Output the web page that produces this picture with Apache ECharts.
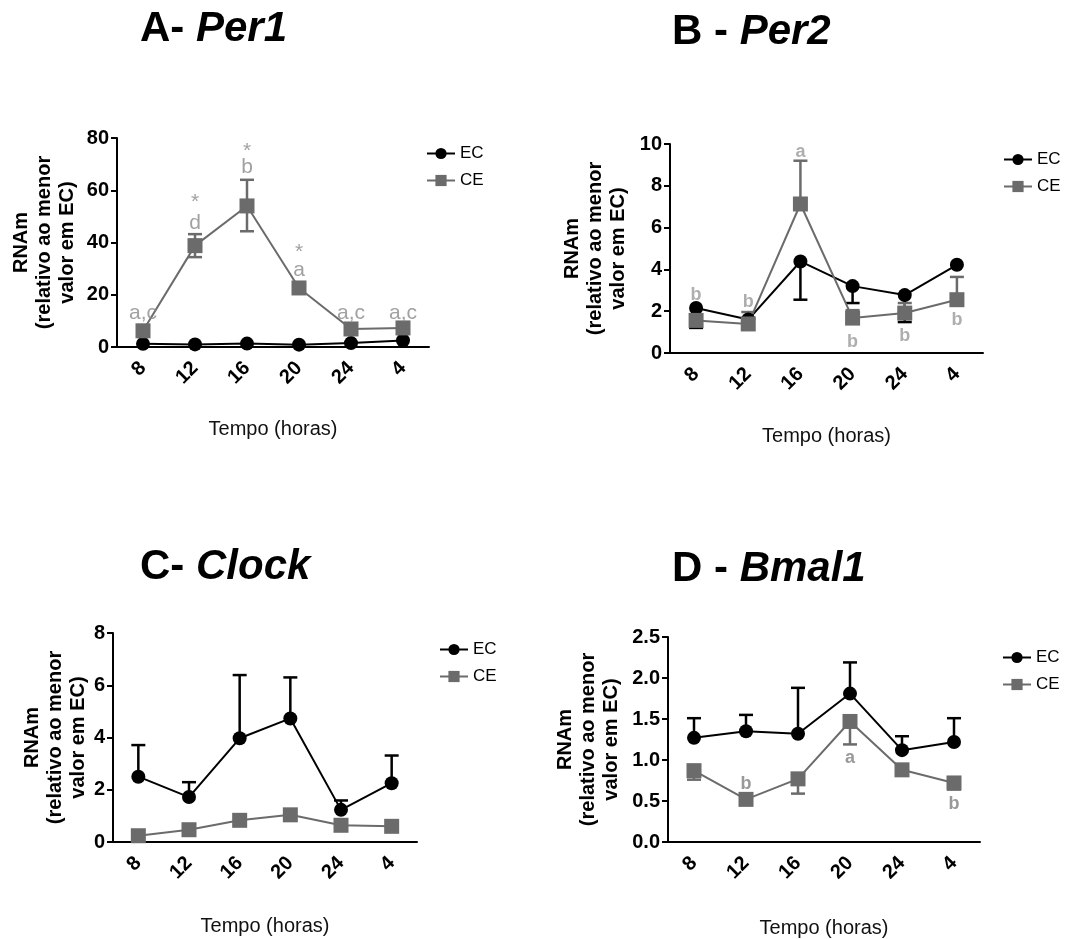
<!DOCTYPE html>
<html>
<head>
<meta charset="utf-8">
<script src="https://cdn.jsdelivr.net/npm/echarts@6/dist/echarts.min.js"></script>
<style>
  html, body { margin: 0; padding: 0; background: #fff; }
  #chart { width: 1067px; height: 939px; }
</style>
</head>
<body>
<div id="chart"></div>
<script>
const hours = ['8', '12', '16', '20', '24', '4']

// A - Per1
const ecA = [1.2, 1.0, 1.3, 0.9, 1.5, 2.5]
const ceA = [6.2, 38.8, 54, 22.6, 6.9, 7.3]
const ceAHi = [null, 43.2, 64, 23.8, null, null]
const ceALo = [null, 34.4, 44.3, null, null, null]
const annA = [[0, 13, 'a,c'], [1, 47.5, 'd'], [1, 55.5, '*'], [2, 69, 'b'], [2, 75, '*'],
  [3, 29.5, 'a'], [3, 36.4, '*'], [4, 13, 'a,c'], [5, 13, 'a,c']]

// B - Per2
const ecB = [2.15, 1.6, 4.38, 3.2, 2.77, 4.22]
const ecBLo = [1.2, null, 2.55, 2.39, 1.48, null]
const ceB = [1.56, 1.39, 7.13, 1.67, 1.91, 2.55]
const ceBHi = [null, 1.96, 9.2, 2.05, 2.39, 3.64]
const annB = [[0, 2.78, 'b'], [1, 2.44, 'b'], [2, 9.6, 'a'], [3, 0.53, 'b'], [4, 0.81, 'b'], [5, 1.58, 'b']]

// C - Clock
const ecC = [2.5, 1.72, 3.97, 4.73, 1.23, 2.25]
const ecCHi = [3.71, 2.29, 6.39, 6.3, 1.59, 3.31]
const ceC = [0.24, 0.47, 0.83, 1.04, 0.64, 0.6]

// D - Bmal1
const ecD = [1.27, 1.35, 1.32, 1.81, 1.12, 1.22]
const ecDHi = [1.51, 1.55, 1.88, 2.19, 1.29, 1.51]
const ceD = [0.87, 0.52, 0.77, 1.47, 0.88, 0.72]
const ceDLo = [0.76, null, 0.59, 1.19, null, 0.64]
const annD = [[1, 0.71, 'b'], [3, 1.02, 'a'], [5, 0.46, 'b']]

const FONT = '"Liberation Sans", Arial, sans-serif'
const BLACK = '#000'
const GRAY = '#6b6b6b'

const chart = echarts.init(document.getElementById('chart'))

function errSeries(idx, values, ends, color) {
  const data = []
  values.forEach((v, i) => {
    if (ends[i] != null) data.push([i, v, ends[i]])
  })
  return {
    type: 'custom',
    xAxisIndex: idx,
    yAxisIndex: idx,
    z: 1,
    silent: true,
    renderItem: (params, api) => {
      const p0 = api.coord([api.value(0), api.value(1)])
      const p1 = api.coord([api.value(0), api.value(2)])
      const style = { stroke: color, lineWidth: 2.5 }
      return {
        type: 'group',
        children: [
          { type: 'line', shape: { x1: p0[0], y1: p0[1], x2: p1[0], y2: p1[1] }, style },
          { type: 'line', shape: { x1: p1[0] - 7, y1: p1[1], x2: p1[0] + 7, y2: p1[1] }, style }
        ]
      }
    },
    data
  }
}

function lineSeries(idx, name, values, color, symbol) {
  return {
    name,
    type: 'line',
    xAxisIndex: idx,
    yAxisIndex: idx,
    z: 3,
    symbol,
    symbolSize: symbol === 'circle' ? 14 : 15,
    showSymbol: true,
    lineStyle: { color, width: 2 },
    itemStyle: { color },
    animation: false,
    data: values
  }
}

function annSeries(idx, ann, color, weight, size) {
  return {
    type: 'scatter',
    xAxisIndex: idx,
    yAxisIndex: idx,
    symbolSize: 0,
    silent: true,
    z: 4,
    label: {
      show: true,
      position: 'inside',
      formatter: p => p.data[2],
      color,
      fontFamily: FONT,
      fontWeight: weight,
      fontSize: size
    },
    data: ann
  }
}

const grids = [
  { left: 117, top: 138, width: 312, height: 209 },
  { left: 670, top: 144, width: 313, height: 209 },
  { left: 113, top: 633, width: 304, height: 209 },
  { left: 668, top: 637, width: 312, height: 211 }
]
const yMax = [80, 10, 8, 2.5]
const yStep = [20, 2, 2, 0.5]
const yNameGap = [38, 40, 23, 45]
const xNameGap = [72, 73, 74, 76]
const legendPos = [[421, 140], [998, 146], [434, 636], [997, 644]]
const titles = [
  ['A- ', 'Per1', 140, 8],
  ['B - ', 'Per2', 672, 11],
  ['C- ', 'Clock', 140, 546],
  ['D - ', 'Bmal1', 672, 548]
]

const option = {
  backgroundColor: '#fff',
  textStyle: { fontFamily: FONT },
  title: titles.map(t => ({
    text: '{n|' + t[0] + '}{i|' + t[1] + '}',
    left: t[2],
    top: t[3],
    padding: 0,
    textStyle: {
      rich: {
        n: { fontSize: 42, fontWeight: 'bold', fontFamily: FONT, color: BLACK },
        i: { fontSize: 42, fontWeight: 'bold', fontStyle: 'italic', fontFamily: FONT, color: BLACK }
      }
    }
  })),
  legend: legendPos.map(p => ({
    left: p[0],
    top: p[1],
    orient: 'vertical',
    itemWidth: 28,
    itemHeight: 14,
    itemGap: 10,
    selectedMode: false,
    textStyle: { fontSize: 17, color: BLACK, fontFamily: FONT },
    data: ['EC', 'CE']
  })),
  grid: grids,
  xAxis: grids.map((g, i) => ({
    type: 'category',
    gridIndex: i,
    data: hours,
    boundaryGap: true,
    name: 'Tempo (horas)',
    nameLocation: 'middle',
    nameGap: xNameGap[i],
    nameTextStyle: { fontSize: 20, color: '#111', fontFamily: FONT },
    axisLine: { lineStyle: { color: BLACK, width: 2 } },
    axisTick: { alignWithLabel: true, length: 6, lineStyle: { width: 2, color: BLACK } },
    axisLabel: { rotate: 45, fontSize: 20, fontWeight: 'bold', color: BLACK, margin: 18, fontFamily: FONT },
    splitLine: { show: false }
  })),
  yAxis: grids.map((g, i) => ({
    type: 'value',
    gridIndex: i,
    min: 0,
    max: yMax[i],
    interval: yStep[i],
    name: 'RNAm\n(relativo ao menor\nvalor em EC)',
    nameLocation: 'middle',
    nameRotate: 90,
    nameGap: yNameGap[i],
    nameTextStyle: { fontSize: 20, fontWeight: 'bold', color: BLACK, lineHeight: 23, fontFamily: FONT },
    axisLine: { show: true, lineStyle: { color: BLACK, width: 2 } },
    axisTick: { show: true, length: 6, lineStyle: { width: 2, color: BLACK } },
    axisLabel: {
      fontSize: 20,
      fontWeight: 'bold',
      color: BLACK,
      margin: 8,
      fontFamily: FONT,
      formatter: v => (i === 3 ? v.toFixed(1) : String(v))
    },
    splitLine: { show: false }
  })),
  series: [
    errSeries(0, ceA, ceAHi, GRAY),
    errSeries(0, ceA, ceALo, GRAY),
    lineSeries(0, 'EC', ecA, BLACK, 'circle'),
    lineSeries(0, 'CE', ceA, GRAY, 'rect'),
    annSeries(0, annA, '#8a8a8a', 'normal', 21),

    errSeries(1, ecB, ecBLo, BLACK),
    errSeries(1, ceB, ceBHi, GRAY),
    lineSeries(1, 'EC', ecB, BLACK, 'circle'),
    lineSeries(1, 'CE', ceB, GRAY, 'rect'),
    annSeries(1, annB, '#9a9a9a', 'bold', 18),

    errSeries(2, ecC, ecCHi, BLACK),
    lineSeries(2, 'EC', ecC, BLACK, 'circle'),
    lineSeries(2, 'CE', ceC, GRAY, 'rect'),

    errSeries(3, ecD, ecDHi, BLACK),
    errSeries(3, ceD, ceDLo, GRAY),
    lineSeries(3, 'EC', ecD, BLACK, 'circle'),
    lineSeries(3, 'CE', ceD, GRAY, 'rect'),
    annSeries(3, annD, '#808080', 'bold', 18)
  ]
}

chart.setOption(option)
</script>
</body>
</html>
